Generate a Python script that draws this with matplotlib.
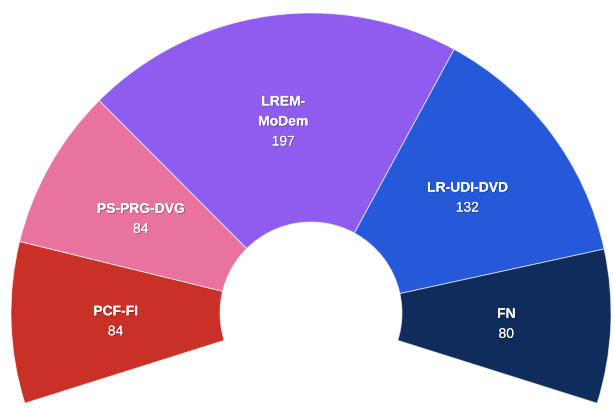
import numpy as np
import matplotlib.pyplot as plt
import matplotlib.patheffects as pe

plt.rcParams['font.family'] = ['Liberation Sans', 'DejaVu Sans']

parties = ["PCF-FI", "PS-PRG-DVG", "LREM-\nMoDem", "LR-UDI-DVD", "FN"]
seats = [84, 84, 197, 132, 80]
colors = ["#c93128", "#e8739f", "#8f5cf0", "#2559d9", "#0f2c5c"]

below = 17.5  # degrees the arc drops below horizontal on each side
span = 180 + 2 * below
cx, cy = 311, 95  # centre in pixel coords (y up)
r_out, r_in = 300, 91

fig = plt.figure(figsize=(6.13, 4.08), dpi=100)
ax = fig.add_axes([0, 0, 1, 1])

total = sum(seats)
fracs = [s / total * span / 360 for s in seats]
wedges, _ = ax.pie(fracs, colors=colors, normalize=False, startangle=180 + below,
                   counterclock=False, center=(cx, cy), radius=r_out,
                   wedgeprops=dict(width=r_out - r_in, edgecolor=(1, 1, 1, 0.6), linewidth=0.7))

shadow = [pe.withSimplePatchShadow(offset=(0.6, -0.6), shadow_rgbFace="black", alpha=0.35), pe.Normal()]
r_lab = (r_out + r_in) / 2
ang = 180 + below
for name, s in zip(parties, seats):
    d = s / total * span
    mid = np.radians(ang - d / 2)
    ang -= d
    x = cx + r_lab * np.cos(mid)
    y = cy + r_lab * np.sin(mid)
    lines = name.split("\n") + [str(s)]
    n = len(lines)
    for k, line in enumerate(lines):
        bold = k < n - 1
        off = 20 * (k - (n - 1) / 2) + 1 + 5
        ax.text(x, y - off, line, ha="center", va="baseline", color="white",
                fontsize=10, fontweight="bold" if bold else "normal", path_effects=shadow)

ax.set_xlim(0, 613)
ax.set_ylim(0, 408)
ax.set_aspect("equal")
ax.axis("off")
fig.savefig("out.png", dpi=100)
